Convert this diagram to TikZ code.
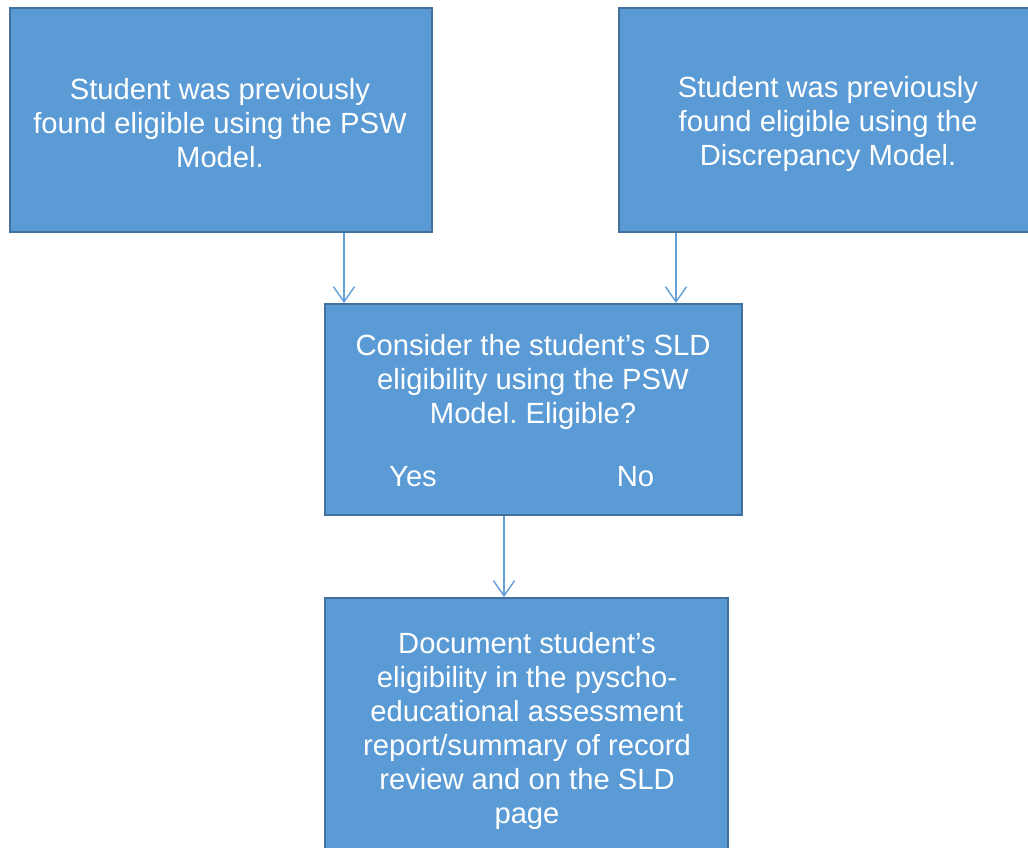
\documentclass[tikz,border=0pt]{standalone}
\usepackage{fontspec}
\setmainfont{Liberation Sans}
\usetikzlibrary{arrows.meta}
\definecolor{boxfill}{HTML}{5B9BD5}
\definecolor{boxline}{HTML}{41719C}
\definecolor{arrline}{HTML}{629FD8}
\frenchspacing
\begin{document}
\begin{tikzpicture}[x=1pt,y=-1pt,
  box/.style={draw=boxline, line width=2pt, fill=boxfill, inner sep=0pt},
  txt/.style={text=white, font=\fontsize{29.2}{34}\selectfont, align=center, inner sep=0pt},
  arr/.style={draw=arrline, line width=1.4pt, -{Straight Barb[length=15pt,width=21pt]}}]
\clip (0,0) rectangle (1028,848);
\node[box, minimum width=422pt, minimum height=224pt] (b1) at (221,120) {};
\node[box, minimum width=421pt, minimum height=224pt] (b2) at (829.5,120) {};
\node[box, minimum width=417pt, minimum height=211pt] (b3) at (533.5,409.5) {};
\node[box, minimum width=403pt, minimum height=272pt] (b4) at (526.5,734) {};
\node[txt] (t1) at (220,123.5) {Student was previously\\found eligible using the PSW\\Model.};
\node[txt] (t2) at (828,123.5) {Student was previously\\found eligible using the\\Discrepancy Model.};
\node[txt] (t3) at (533,381.5) {Consider the student’s SLD\\eligibility using the PSW\\Model. Eligible?};
\node[txt] (yes) at (413,477) {Yes};
\node[txt] (no) at (635.5,477) {No};
\node[txt] (t4) at (527,731) {Document student’s\\eligibility in the pyscho-\\educational assessment\\report/summary of record\\review and on the SLD\\page};
\draw[arr] ([xshift=123pt]b1.south) -- ([xshift=-189.5pt]b3.north);
\draw[arr] ([xshift=-153.5pt]b2.south) -- ([xshift=142.5pt]b3.north);
\draw[arr] ([xshift=-29.5pt]b3.south) -- ([xshift=-22.5pt]b4.north);
\end{tikzpicture}
\end{document}
